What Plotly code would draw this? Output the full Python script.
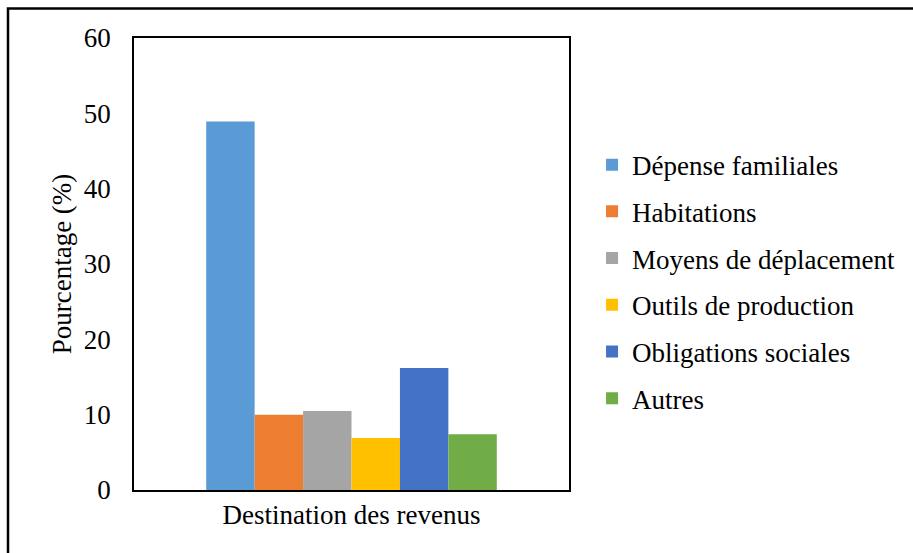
import plotly.graph_objects as go

category = ["Destination des revenus"]
series_names = ["Dépense familiales", "Habitations", "Moyens de déplacement",
                "Outils de production", "Obligations sociales", "Autres"]
series_values = [48.9, 10.0, 10.5, 6.9, 16.2, 7.4]
series_colors = ["#5B9BD5", "#ED7D31", "#A5A5A5", "#FFC000", "#4472C4", "#70AD47"]
y_ticks = [0, 10, 20, 30, 40, 50, 60]

FONT = "Liberation Serif, Times New Roman, serif"
FS = 27

fig = go.Figure()
for name, val, col in zip(series_names, series_values, series_colors):
    fig.add_trace(go.Bar(x=category, y=[val], name=name, marker_color=col,
                         marker_line_width=0, legendgroup=name))

fig.update_layout(
    width=913, height=553,
    margin=dict(l=134, r=344, t=38, b=63),
    paper_bgcolor="white", plot_bgcolor="white",
    barmode="group", bargap=0.332, bargroupgap=0,
    font=dict(family=FONT, size=FS, color="black"),
    showlegend=True,
    legend=dict(x=1.053, y=0.773, xanchor="left", yanchor="top",
                font=dict(family=FONT, size=FS, color="black"),
                tracegroupgap=8.6, itemwidth=30, bgcolor="rgba(0,0,0,0)"),
    xaxis=dict(showline=True, linecolor="black", linewidth=1.5, mirror=True,
               ticks="", showgrid=False, tickfont=dict(size=FS)),
    yaxis=dict(range=[0, 60], tickvals=y_ticks, showline=True, linecolor="black",
               linewidth=1.5, mirror=True, ticks="", showgrid=False, zeroline=False,
               ticklabelstandoff=16,
               title=dict(text="Pourcentage (%)", font=dict(size=27), standoff=4)),
)

fig.add_shape(type="rect", xref="paper", yref="paper",
              x0=(8 - 134) / 435, x1=1.9, y0=-0.3, y1=(490.5 - 8) / 453,
              line=dict(color="black", width=2.5), fillcolor="rgba(0,0,0,0)", layer="above")

fig.write_html("out.html", config={"displayModeBar": False},
               post_script="document.body.style.margin='0px';")
